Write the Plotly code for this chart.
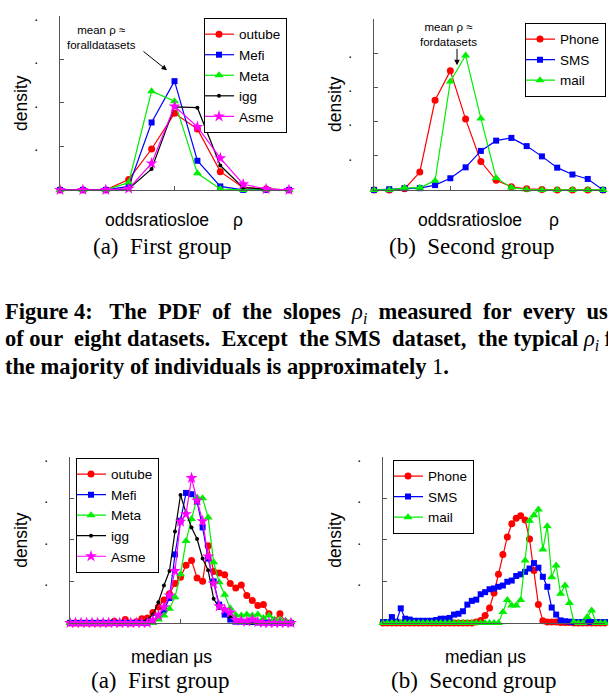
import plotly.graph_objects as go

W, H = 608, 700

# ---------------- data ----------------
# Figure 4, top row: PDF of slopes rho (bins)
slope_bins_a = list(range(11))
slope_outube = [0, 0, 0, 0.24, 0.94, 1.76, 1.40, 0.42, 0.05, 0.02, 0]
slope_mefi = [0, 0, 0, 0.08, 1.55, 2.50, 0.67, 0.08, 0, 0, 0]
slope_meta = [0, 0, 0, 0.17, 2.27, 2.04, 0.38, 0.02, 0, 0, 0]
slope_igg = [0, 0, 0, 0.02, 0.48, 1.91, 1.89, 0.56, 0.05, 0.02, 0]
slope_asme = [0, 0, 0, 0.03, 0.61, 1.92, 1.45, 0.73, 0.13, 0.02, 0]

slope_bins_b = list(range(16))
slope_phone = [0, 0, 0.03, 0.52, 2.62, 3.48, 2.07, 0.83, 0.28, 0.09, 0.03, 0.01, 0, 0, 0, 0]
slope_sms = [0, 0.02, 0.05, 0.05, 0.14, 0.34, 0.66, 1.14, 1.44, 1.52, 1.28, 0.98, 0.65, 0.45, 0.32, 0]
slope_mail = [0, 0, 0.06, 0.06, 0.27, 3.17, 3.93, 2.09, 0.35, 0.07, 0.01, 0, 0, 0, 0, 0]

# Bottom row: PDF of median mu_s
mu_bins_a = list(range(41))
mu_outube = [0, 0, 0, 0, 0, 0, 0, 0, 0.04, 0, 0.08, 0, 0.03, 0.10, 0.12, 0.25, 0.38, 0.55, 0.70, 0.95,
             1.10, 1.39, 1.50, 1.08, 1.00, 1.86, 1.24, 1.20, 1.16, 0.95, 0.84, 0.91, 0.66, 0.54, 0.42,
             0.44, 0.22, 0.06, 0.22, 0.02, 0]
mu_mefi = [0, 0, 0, 0, 0, 0, 0, 0, 0, 0, 0, 0, 0, 0, 0, 0.04, 0.15, 0.30, 0.60, 1.65,
           2.46, 3.13, 3.10, 2.92, 2.30, 1.55, 1.00, 0.44, 0.20, 0.08, 0.03, 0.03, 0.02, 0.02, 0.01,
           0.01, 0.01, 0, 0, 0, 0]
mu_meta = [0, 0, 0, 0, 0, 0, 0, 0, 0, 0, 0, 0, 0, 0, 0, 0, 0.08, 0.18, 0.34, 0.62,
           1.17, 1.97, 2.50, 3.02, 3.00, 2.54, 1.46, 0.98, 0.68, 0.35, 0.19, 0.18, 0.20, 0.18, 0.20,
           0.12, 0.18, 0.08, 0.08, 0.05, 0.02]
mu_igg = [0, 0, 0, 0, 0, 0, 0, 0, 0, 0, 0, 0, 0, 0.03, 0.08, 0.20, 0.50, 0.90, 1.25, 2.20,
          3.08, 2.65, 2.30, 2.02, 1.55, 1.27, 0.58, 0.36, 0.34, 0.14, 0.06, 0.05, 0.02, 0, 0,
          0, 0, 0, 0, 0, 0]
mu_asme = [0, 0, 0, 0, 0, 0, 0, 0, 0, 0, 0, 0, 0, 0, 0, 0.06, 0.18, 0.38, 0.66, 1.25,
           2.44, 2.62, 3.49, 2.95, 2.45, 1.60, 0.95, 0.40, 0.32, 0.25, 0.07, 0.05, 0.03, 0.08, 0.02,
           0, 0, 0, 0, 0, 0]

mu_bins_b = list(range(51))
mu_phone = [0] * 21 + [0.02, 0.06, 0.18, 0.36, 0.72, 1.17, 1.65, 2.07, 2.39, 2.52, 2.58, 2.48, 2.02,
                       1.26, 0.44, 0.05, 0.02, 0.02, 0.02, 0.01, 0.01, 0.01, 0, 0, 0, 0, 0, 0, 0, 0]
mu_sms = [0.02, 0.02, 0.14, 0.03, 0.35, 0.10, 0.08, 0.05, 0.05, 0.05, 0.05, 0.05, 0.07, 0.10, 0.10,
          0.12, 0.20, 0.22, 0.28, 0.44, 0.53, 0.56, 0.69, 0.74, 0.81, 0.83, 0.87, 0.90, 0.99, 1.02,
          1.13, 1.17, 1.23, 1.31, 1.44, 1.33, 1.11, 0.87, 0.37, 0.20, 0.06, 0.04, 0.03, 0.02, 0.02,
          0.02, 0.02, 0.02, 0.02, 0.02, 0.02]
mu_mail = [0] * 27 + [0.26, 0.55, 0.42, 0.42, 0.55, 1.50, 2.46, 2.59, 2.73, 1.77, 2.33, 1.10, 1.38,
                      0.70, 0.90, 0.48, 0.02, 0, 0, 0.14, 0.30, 0, 0, 0]

ytick_vals = [1, 2, 3, 4]
ytick_text = [".", ".", ".", "."]

# ---------------- styles ----------------
SANS = "Liberation Sans, Arial, Helvetica, sans-serif"
SERIF = "Liberation Serif, Times New Roman, serif"
AX = "#555555"

style = {
    "outube": dict(color="#ff0000", symbol="circle", size=7),
    "Mefi": dict(color="#0000ff", symbol="square", size=6),
    "Meta": dict(color="#00ee00", symbol="triangle-up", size=8),
    "igg": dict(color="#000000", symbol="circle", size=4),
    "Asme": dict(color="#ff00ff", symbol="star", size=9),
    "Phone": dict(color="#ff0000", symbol="circle", size=7),
    "SMS": dict(color="#0000ff", symbol="square", size=6),
    "mail": dict(color="#00ee00", symbol="triangle-up", size=8),
}


def px_x(p):
    return p / W


def px_y(p):
    return 1 - p / H


fig = go.Figure()


def add(name, x, y, xa, ya, leg):
    s = style[name]
    fig.add_trace(go.Scatter(
        x=x, y=y, name=name, mode="lines+markers", xaxis=xa, yaxis=ya, legend=leg,
        line=dict(color=s["color"], width=1.2),
        marker=dict(color=s["color"], symbol=s["symbol"], size=s["size"],
                    line=dict(width=0, color=s["color"])),
        cliponaxis=False, hoverinfo="skip",
    ))


add("outube", slope_bins_a, slope_outube, "x", "y", "legend")
add("Mefi", slope_bins_a, slope_mefi, "x", "y", "legend")
add("Meta", slope_bins_a, slope_meta, "x", "y", "legend")
add("igg", slope_bins_a, slope_igg, "x", "y", "legend")
add("Asme", slope_bins_a, slope_asme, "x", "y", "legend")

add("Phone", slope_bins_b, slope_phone, "x2", "y2", "legend2")
add("SMS", slope_bins_b, slope_sms, "x2", "y2", "legend2")
add("mail", slope_bins_b, slope_mail, "x2", "y2", "legend2")

add("outube", mu_bins_a, mu_outube, "x3", "y3", "legend3")
add("Mefi", mu_bins_a, mu_mefi, "x3", "y3", "legend3")
add("Meta", mu_bins_a, mu_meta, "x3", "y3", "legend3")
add("igg", mu_bins_a, mu_igg, "x3", "y3", "legend3")
add("Asme", mu_bins_a, mu_asme, "x3", "y3", "legend3")

add("Phone", mu_bins_b, mu_phone, "x4", "y4", "legend4")
add("SMS", mu_bins_b, mu_sms, "x4", "y4", "legend4")
add("mail", mu_bins_b, mu_mail, "x4", "y4", "legend4")


def xaxis(x0, x1, rng, tick, anchor):
    return dict(domain=[px_x(x0), px_x(x1)], range=rng, showline=True, linecolor=AX, linewidth=1,
                ticks="inside" if tick is not None else "", tickvals=[tick] if tick is not None else [],
                ticklen=4, tickcolor=AX, showticklabels=False, showgrid=False, zeroline=False,
                fixedrange=True, anchor=anchor)


def yaxis(y0, y1, rng, anchor):
    return dict(domain=[px_y(y1), px_y(y0)], range=rng, showline=True, linecolor=AX, linewidth=1,
                ticks="inside", tickvals=ytick_vals, ticktext=ytick_text, ticklen=4, tickcolor=AX,
                tickfont=dict(family=SANS, size=14, color="black"), ticklabelstandoff=18,
                showgrid=False, zeroline=False, anchor=anchor, fixedrange=True)


def legend(x0, y0, xanchor="left"):
    return dict(x=px_x(x0), y=px_y(y0), xanchor=xanchor, yanchor="top", bgcolor="white",
                bordercolor="black", borderwidth=1, itemwidth=30, tracegroupgap=0,
                font=dict(family=SANS, size=13.5, color="black"), itemclick=False,
                itemdoubleclick=False, indentation=-6)


annotations = []


def text(x, y, s, size, family=SANS, angle=0, xanchor="center", yanchor="middle"):
    annotations.append(dict(x=px_x(x), y=px_y(y), xref="paper", yref="paper", text=s,
                            showarrow=False, textangle=angle, xanchor=xanchor, yanchor=yanchor,
                            font=dict(family=family, size=size, color="black")))


# axis titles
for cx, cy in [(21, 96), (335, 97), (21, 538), (335, 538)]:
    text(cx, cy, "density", 17.5, angle=-90)
text(157, 214, "oddsratiosloe", 17.5)
text(238, 214, "ρ", 17.5)
text(470, 214, "oddsratiosloe", 17.5)
text(554, 214, "ρ", 17.5)
text(171, 656, "median μs", 17.5)
text(485, 656, "median μs", 17.5)

# sub captions
text(162, 241, "(a)\u00a0\u00a0First group", 23, SERIF)
text(471, 241, "(b)\u00a0\u00a0Second group", 23, SERIF)
text(160, 680, "(a)\u00a0\u00a0First group", 23, SERIF)
text(473, 680, "(b)\u00a0\u00a0Second group", 23, SERIF)

# figure caption (justified lines approximated with extra spaces)
S2 = " \u00a0"
line1 = ("<b>Figure 4:\u00a0\u00a0 The" + S2 + "PDF" + S2 + "of" + S2 + "the" + S2 + "slopes</b>" + S2 +
         "<i>ρ</i><sub><i>i</i></sub>" + S2 + "<b>measured" + S2 + "for" + S2 + "every" + S2 + "user</b>")
line2 = ("<b>of our" + S2 + "eight datasets." + S2 + "Except" + S2 + "the SMS" + S2 + "dataset," + S2 +
         "the typical</b> <i>ρ</i><sub><i>i</i></sub> <b>for</b>")
line3 = "<b>the majority of individuals is approximately</b> 1<b>.</b>"
text(3, 309, line1, 22.5, SERIF, xanchor="left")
text(3, 336, line2, 22.5, SERIF, xanchor="left")
text(3, 363, line3, 22.5, SERIF, xanchor="left")

# arrows with notes
text(101, 30, "mean ρ ≈<br>foralldatasets", 11.5)
annotations.append(dict(x=px_x(167), y=px_y(63), xref="paper", yref="paper", text="",
                        showarrow=True, ax=-25, ay=-20, arrowhead=2, arrowsize=1.1,
                        arrowwidth=1, arrowcolor="black"))
text(448, 27, "mean ρ ≈<br>fordatasets", 11.5)
annotations.append(dict(x=px_x(457), y=px_y(58), xref="paper", yref="paper", text="",
                        showarrow=True, ax=0, ay=-18, arrowhead=2, arrowsize=1.1,
                        arrowwidth=1, arrowcolor="black"))

fig.update_layout(
    width=W, height=H, margin=dict(l=0, r=0, t=0, b=0),
    paper_bgcolor="white", plot_bgcolor="white", showlegend=True, hovermode=False,
    xaxis=xaxis(60, 289, [0, 10], 5, "y"),
    yaxis=yaxis(8, 184, [0, 4], "x"),
    xaxis2=xaxis(374, 603, [0, 15], 5, "y2"),
    yaxis2=yaxis(11, 184, [0, 5], "x2"),
    xaxis3=xaxis(70, 291, [0, 40], 20, "y3"),
    yaxis3=yaxis(454, 622, [0, 4], "x3"),
    xaxis4=xaxis(383, 605, [0, 50], None, "y4"),
    yaxis4=yaxis(454, 622, [0, 4], "x4"),
    legend=legend(204, 10),
    legend2=legend(606, 15, "right"),
    legend3=legend(76, 455),
    legend4=legend(393, 457),
    annotations=annotations,
)

fig.write_html("out.html", config={"displayModeBar": False, "staticPlot": True},
               post_script="document.body.style.margin='0px';document.body.style.padding='0px';")
